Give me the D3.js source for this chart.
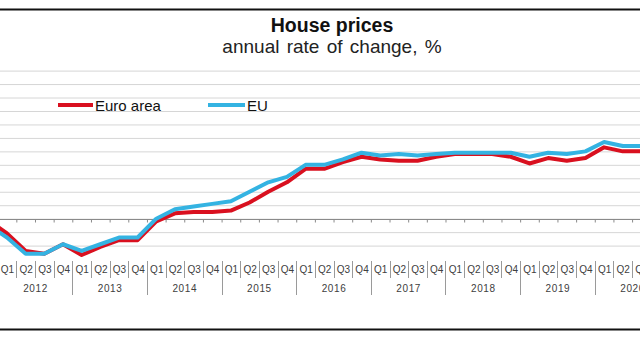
<!DOCTYPE html>
<html>
<head>
<meta charset="utf-8">
<script src="https://cdn.jsdelivr.net/npm/d3@7"></script>
<style>
  html, body { margin: 0; padding: 0; background: #fff; }
  svg { display: block; font-family: "Liberation Sans", Arial, sans-serif; }
</style>
</head>
<body>
<svg id="chart" width="640" height="337"></svg>
<script>
// Quarterly periods shown on the category axis
const periods = [
  "2011-Q4",
  "2012-Q1","2012-Q2","2012-Q3","2012-Q4",
  "2013-Q1","2013-Q2","2013-Q3","2013-Q4",
  "2014-Q1","2014-Q2","2014-Q3","2014-Q4",
  "2015-Q1","2015-Q2","2015-Q3","2015-Q4",
  "2016-Q1","2016-Q2","2016-Q3","2016-Q4",
  "2017-Q1","2017-Q2","2017-Q3","2017-Q4",
  "2018-Q1","2018-Q2","2018-Q3","2018-Q4",
  "2019-Q1","2019-Q2","2019-Q3","2019-Q4",
  "2020-Q1","2020-Q2","2020-Q3"
];
const years = ["2012","2013","2014","2015","2016","2017","2018","2019","2020"];

// House prices, annual rate of change (%)
const euroArea = [-0.1, -1.1, -2.4, -2.6, -1.9, -2.7, -2.1, -1.6, -1.6, -0.2, 0.4, 0.5,
                  0.5, 0.6, 1.2, 2.0, 2.7, 3.7, 3.7, 4.2, 4.6, 4.4, 4.3, 4.3,
                  4.6, 4.8, 4.8, 4.8, 4.6, 4.1, 4.5, 4.3, 4.5, 5.3, 5.0, 5.0];
const eu       = [-0.5, -1.4, -2.6, -2.6, -1.9, -2.4, -1.9, -1.4, -1.4, 0.0, 0.7, 0.9,
                  1.1, 1.3, 2.0, 2.7, 3.1, 4.0, 4.0, 4.4, 4.9, 4.7, 4.8, 4.7,
                  4.8, 4.9, 4.9, 4.9, 4.9, 4.6, 4.9, 4.8, 5.0, 5.7, 5.4, 5.4];

const yTicks = d3.range(-2, 12, 1);
const seriesNames = ["Euro area", "EU"];
const colors = { "Euro area": "#d9101f", "EU": "#34b3e2" };

const svg = d3.select("#chart");
const W = 640;

// quarter index: 0 = first quarter of 2012
const qIndex = p => {
  const [y, q] = p.split("-Q").map(Number);
  return (y - 2012) * 4 + (q - 1);
};
const x = d3.scaleLinear().domain([0, 32]).range([7, 604.1]);
const y = d3.scaleLinear().domain([-2, 11]).range([245.6, 70.6]);

// Title
svg.append("text").attr("x", 332).attr("y", 31.5).attr("text-anchor", "middle")
  .attr("font-size", 19.5).attr("font-weight", "bold").attr("fill", "#111")
  .text("House prices");
svg.append("text").attr("x", 332).attr("y", 53).attr("text-anchor", "middle")
  .attr("font-size", 19).attr("word-spacing", 2).attr("fill", "#222")
  .text("annual rate of change, %");

// Horizontal gridlines
const grid = svg.append("g").attr("class", "grid")
  .call(d3.axisRight(y).tickValues(yTicks).tickSize(W).tickFormat(""));
grid.select(".domain").remove();
grid.selectAll(".tick line").attr("stroke", "#d6d6d6").attr("stroke-width", 1);

// Zero line with quarter tick marks
const boundaries = d3.range(-4, 36).map(i => i + 0.5);
const zeroAxis = svg.append("g").attr("transform", `translate(0,${Math.round(y(0)) + 0.5})`)
  .call(d3.axisBottom(x).tickValues(boundaries).tickSize(3).tickFormat(""));
zeroAxis.select(".domain").attr("d", `M0,0H${W}`).attr("stroke", "#8a8a8a");
zeroAxis.selectAll(".tick line").attr("stroke", "#8a8a8a");

// Category axis: quarter labels and year labels
const axisTop = 261;
const labelled = periods.map(qIndex).filter(i => i >= 0);
const qAxis = svg.append("g").attr("transform", `translate(0,${axisTop})`)
  .call(d3.axisBottom(x).tickValues(labelled).tickSize(0)
    .tickPadding(5).tickFormat(i => "Q" + ((i % 4) + 1)));
qAxis.select(".domain").remove();
qAxis.selectAll("text").attr("font-size", 10).attr("fill", "#404040")
  .attr("font-family", "'Liberation Sans', Arial, sans-serif");

svg.append("g").selectAll("line")
  .data(boundaries)
  .join("line")
  .attr("x1", d => Math.round(x(d)) + 0.5).attr("x2", d => Math.round(x(d)) + 0.5)
  .attr("y1", axisTop)
  .attr("y2", d => (((Math.round(d + 0.5)) % 4) === 0 ? 295 : 278))
  .attr("stroke", "#9a9a9a").attr("stroke-width", 1);

const yearAxis = svg.append("g").attr("transform", `translate(0,${axisTop + 19})`)
  .call(d3.axisBottom(x).tickValues(years.map(yr => (+yr - 2012) * 4 + 1.5))
    .tickSize(0).tickPadding(5).tickFormat((d, i) => years[i]));
yearAxis.select(".domain").remove();
yearAxis.selectAll("text").attr("font-size", 10).attr("fill", "#404040")
  .attr("letter-spacing", 0.6)
  .attr("font-family", "'Liberation Sans', Arial, sans-serif");

// Series lines
const line = d3.line()
  .defined(d => d.v != null)
  .x(d => x(d.i))
  .y(d => y(d.v));

const seriesData = {
  "Euro area": periods.map((p, k) => ({ i: qIndex(p), v: euroArea[k] })),
  "EU": periods.map((p, k) => ({ i: qIndex(p), v: eu[k] }))
};

seriesNames.forEach(name => {
  svg.append("path")
    .datum(seriesData[name])
    .attr("fill", "none")
    .attr("stroke", colors[name])
    .attr("stroke-width", 4)
    .attr("stroke-linejoin", "round")
    .attr("d", line);
});

// Legend
const legendItems = [
  { name: "Euro area", x1: 58, x2: 93 },
  { name: "EU", x1: 208, x2: 245 }
];
const lg = svg.append("g");
legendItems.forEach(it => {
  lg.append("line").attr("x1", it.x1).attr("x2", it.x2).attr("y1", 105).attr("y2", 105)
    .attr("stroke", colors[it.name]).attr("stroke-width", 4);
  lg.append("text").attr("x", it.x2 + 2).attr("y", 110.5)
    .attr("font-size", 15).attr("fill", "#111").text(it.name);
});

// Frame lines
svg.append("line").attr("x1", 0).attr("x2", W).attr("y1", 9.5).attr("y2", 9.5)
  .attr("stroke", "#111").attr("stroke-width", 2);
svg.append("line").attr("x1", 0).attr("x2", W).attr("y1", 329.5).attr("y2", 329.5)
  .attr("stroke", "#111").attr("stroke-width", 2);
</script>
</body>
</html>
